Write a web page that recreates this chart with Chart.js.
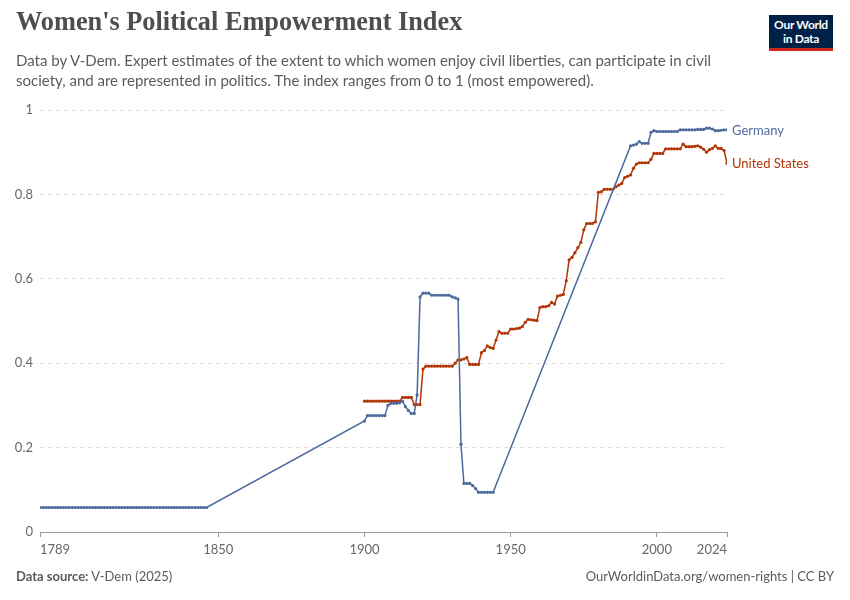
<!DOCTYPE html>
<html>
<head>
<meta charset="utf-8">
<script src="https://cdn.jsdelivr.net/npm/chart.js@4.4.1/dist/chart.umd.min.js"></script>
<style>
  html, body { margin: 0; padding: 0; background: #fff; }
  #wrap { position: relative; width: 850px; height: 600px; overflow: hidden; font-family: Lato, "Noto Sans", sans-serif; }
  #c { position: absolute; left: 0; top: 0; }
  .title { position: absolute; left: 16px; top: 7px; font-family: "Liberation Serif", serif; font-size: 26.3px; font-weight: bold; color: #4e4e4e; white-space: nowrap; }
  .sub { position: absolute; left: 16px; top: 51px; font-size: 15px; line-height: 19.5px; color: #5b5b5b; }
  .foot { position: absolute; top: 568px; font-size: 13px; color: #5b5b5b; }
  .logo { position: absolute; left: 769px; top: 15px; width: 64px; background: #002147; border-bottom: 3px solid #ce261e; color: #fff; font-size: 12px; font-weight: bold; line-height: 13.5px; text-align: center; padding-top: 3px; box-sizing: content-box; height: 30px; letter-spacing: -0.3px; }
</style>
</head>
<body>
<div id="wrap">
  <canvas id="c" width="850" height="600"></canvas>
  <div class="title">Women's Political Empowerment Index</div>
  <div class="sub">Data by V-Dem. Expert estimates of the extent to which women enjoy civil liberties, can participate in civil<br>society, and are represented in politics. The index ranges from 0 to 1 (most empowered).</div>
  <div class="logo">Our World<br>in Data</div>
  <div class="foot" style="left:16px"><b>Data source:</b> V-Dem (2025)</div>
  <div class="foot" style="right:16px">OurWorldinData.org/women-rights | CC BY</div>
</div>
<script>
// Datos (índice 0-1 por año)
const xTicks = [1789, 1850, 1900, 1950, 2000, 2024];
const yTicks = [0, 0.2, 0.4, 0.6, 0.8, 1];

// Alemania: tramos de años consecutivos (año inicial + valores)
const germanyStart1 = 1789;
const germanyVals1 = [
  0.058, 0.058, 0.058, 0.058, 0.058, 0.058, 0.058, 0.058, 0.058, 0.058,
  0.058, 0.058, 0.058, 0.058, 0.058, 0.058, 0.058, 0.058, 0.058, 0.058,
  0.058, 0.058, 0.058, 0.058, 0.058, 0.058, 0.058, 0.058, 0.058, 0.058,
  0.058, 0.058, 0.058, 0.058, 0.058, 0.058, 0.058, 0.058, 0.058, 0.058,
  0.058, 0.058, 0.058, 0.058, 0.058, 0.058, 0.058, 0.058, 0.058, 0.058,
  0.058, 0.058, 0.058, 0.058, 0.058, 0.058, 0.058, 0.058
];
const germanyStart2 = 1900;
const germanyVals2 = [
  0.263, 0.276, 0.276, 0.276, 0.276, 0.276, 0.276, 0.276, 0.300, 0.305, // 1900-1909
  0.305, 0.305, 0.306, 0.310, 0.297, 0.288, 0.281, 0.281, 0.325, 0.557, // 1910-1919
  0.566, 0.566, 0.566, 0.561, 0.561, 0.561, 0.561, 0.561, 0.561, 0.561, // 1920-1929
  0.557, 0.555, 0.552, 0.208, 0.115, 0.115, 0.115, 0.110, 0.103, 0.094, // 1930-1939
  0.094, 0.094, 0.094, 0.094, 0.094                                      // 1940-1944
];
const germanyStart3 = 1991;
const germanyVals3 = [
  0.915, 0.917, 0.919, 0.925, 0.921, 0.921, 0.921, 0.947, 0.951,        // 1991-1999
  0.949, 0.949, 0.949, 0.949, 0.949, 0.949, 0.949, 0.949, 0.953, 0.953, // 2000-2009
  0.953, 0.953, 0.953, 0.953, 0.954, 0.954, 0.954, 0.957, 0.957, 0.955, // 2010-2019
  0.951, 0.951, 0.952, 0.953, 0.953                                      // 2020-2024
];

// Estados Unidos: 1900-2024
const usStart = 1900;
const usVals = [
  0.310, 0.310, 0.310, 0.310, 0.310, 0.310, 0.310, 0.310, 0.310, 0.310, // 1900
  0.310, 0.310, 0.310, 0.319, 0.319, 0.319, 0.319, 0.302, 0.302, 0.302, // 1910
  0.386, 0.393, 0.393, 0.393, 0.393, 0.393, 0.393, 0.393, 0.393, 0.393, // 1920
  0.393, 0.400, 0.408, 0.408, 0.410, 0.413, 0.397, 0.397, 0.397, 0.397, // 1930
  0.425, 0.430, 0.441, 0.437, 0.435, 0.455, 0.475, 0.471, 0.471, 0.471, // 1940
  0.481, 0.481, 0.482, 0.483, 0.487, 0.497, 0.504, 0.503, 0.502, 0.501, // 1950
  0.532, 0.534, 0.534, 0.536, 0.544, 0.540, 0.559, 0.561, 0.563, 0.595, // 1960
  0.645, 0.651, 0.662, 0.674, 0.686, 0.716, 0.731, 0.731, 0.731, 0.735, // 1970
  0.805, 0.806, 0.812, 0.812, 0.812, 0.812, 0.818, 0.822, 0.826, 0.840, // 1980
  0.843, 0.846, 0.862, 0.872, 0.875, 0.875, 0.875, 0.875, 0.883, 0.897, // 1990
  0.897, 0.897, 0.897, 0.908, 0.908, 0.908, 0.908, 0.908, 0.908, 0.919, // 2000
  0.913, 0.913, 0.913, 0.914, 0.915, 0.912, 0.907, 0.900, 0.906, 0.909, // 2010
  0.915, 0.909, 0.909, 0.904, 0.874                                      // 2020
];

// Convertir un tramo (año inicial + valores) en puntos {x, y}
function toPoints(start, vals) {
  return vals.map((v, i) => ({ x: start + i, y: v }));
}

const germanyData = [
  ...toPoints(germanyStart1, germanyVals1),
  ...toPoints(germanyStart2, germanyVals2),
  ...toPoints(germanyStart3, germanyVals3)
];
const usData = toPoints(usStart, usVals);

const BLUE = '#4c6a9c';
const RED = '#b13507';

// Etiquetas al final de cada línea
const endLabels = {
  id: 'endLabels',
  afterDatasetsDraw(chart) {
    const ctx = chart.ctx;
    ctx.save();
    ctx.font = '13px Lato, sans-serif';
    ctx.textBaseline = 'middle';
    ctx.textAlign = 'left';
    chart.data.datasets.forEach((ds, i) => {
      const meta = chart.getDatasetMeta(i);
      const last = meta.data[meta.data.length - 1];
      ctx.fillStyle = ds.borderColor;
      ctx.fillText(ds.label, last.x + 5, last.y + 1);
    });
    ctx.restore();
  }
};

const chart = new Chart(document.getElementById('c'), {
  type: 'line',
  data: {
    datasets: [
      {
        label: 'Germany', data: germanyData,
        borderColor: BLUE, backgroundColor: BLUE,
        borderWidth: 1.5, pointRadius: 1.6, pointBorderWidth: 0, tension: 0
      },
      {
        label: 'United States', data: usData,
        borderColor: RED, backgroundColor: RED,
        borderWidth: 1.5, pointRadius: 1.6, pointBorderWidth: 0, tension: 0
      }
    ]
  },
  options: {
    responsive: false,
    animation: false,
    events: [],
    layout: { padding: { left: 0, top: 110, right: 123, bottom: 38 } },
    plugins: { legend: { display: false }, tooltip: { enabled: false } },
    scales: {
      x: {
        type: 'linear', min: 1789, max: 2024,
        afterBuildTicks: axis => { axis.ticks = xTicks.map(v => ({ value: v })); },
        afterFit: s => { s.height = 30; },
        grid: { drawOnChartArea: false, drawTicks: true, tickLength: 5, color: '#999' },
        border: { display: true, color: '#999', width: 1 },
        ticks: {
          padding: 5, maxRotation: 0, autoSkip: false, align: 'inner',
          color: '#666', font: { family: 'Lato', size: 13 },
          callback: v => String(v)
        }
      },
      y: {
        min: 0, max: 1,
        afterBuildTicks: axis => { axis.ticks = yTicks.map(v => ({ value: v })); },
        afterFit: s => { s.width = 40; },
        grid: {
          drawTicks: false,
          color: ctx => ctx.tick && ctx.tick.value === 0 ? 'rgba(0,0,0,0)' : '#dddddd'
        },
        border: { display: false, dash: [4, 4] },
        ticks: {
          padding: 7, color: '#666', font: { family: 'Lato', size: 13 },
          callback: v => String(v)
        }
      }
    }
  },
  plugins: [endLabels]
});
</script>
</body>
</html>
